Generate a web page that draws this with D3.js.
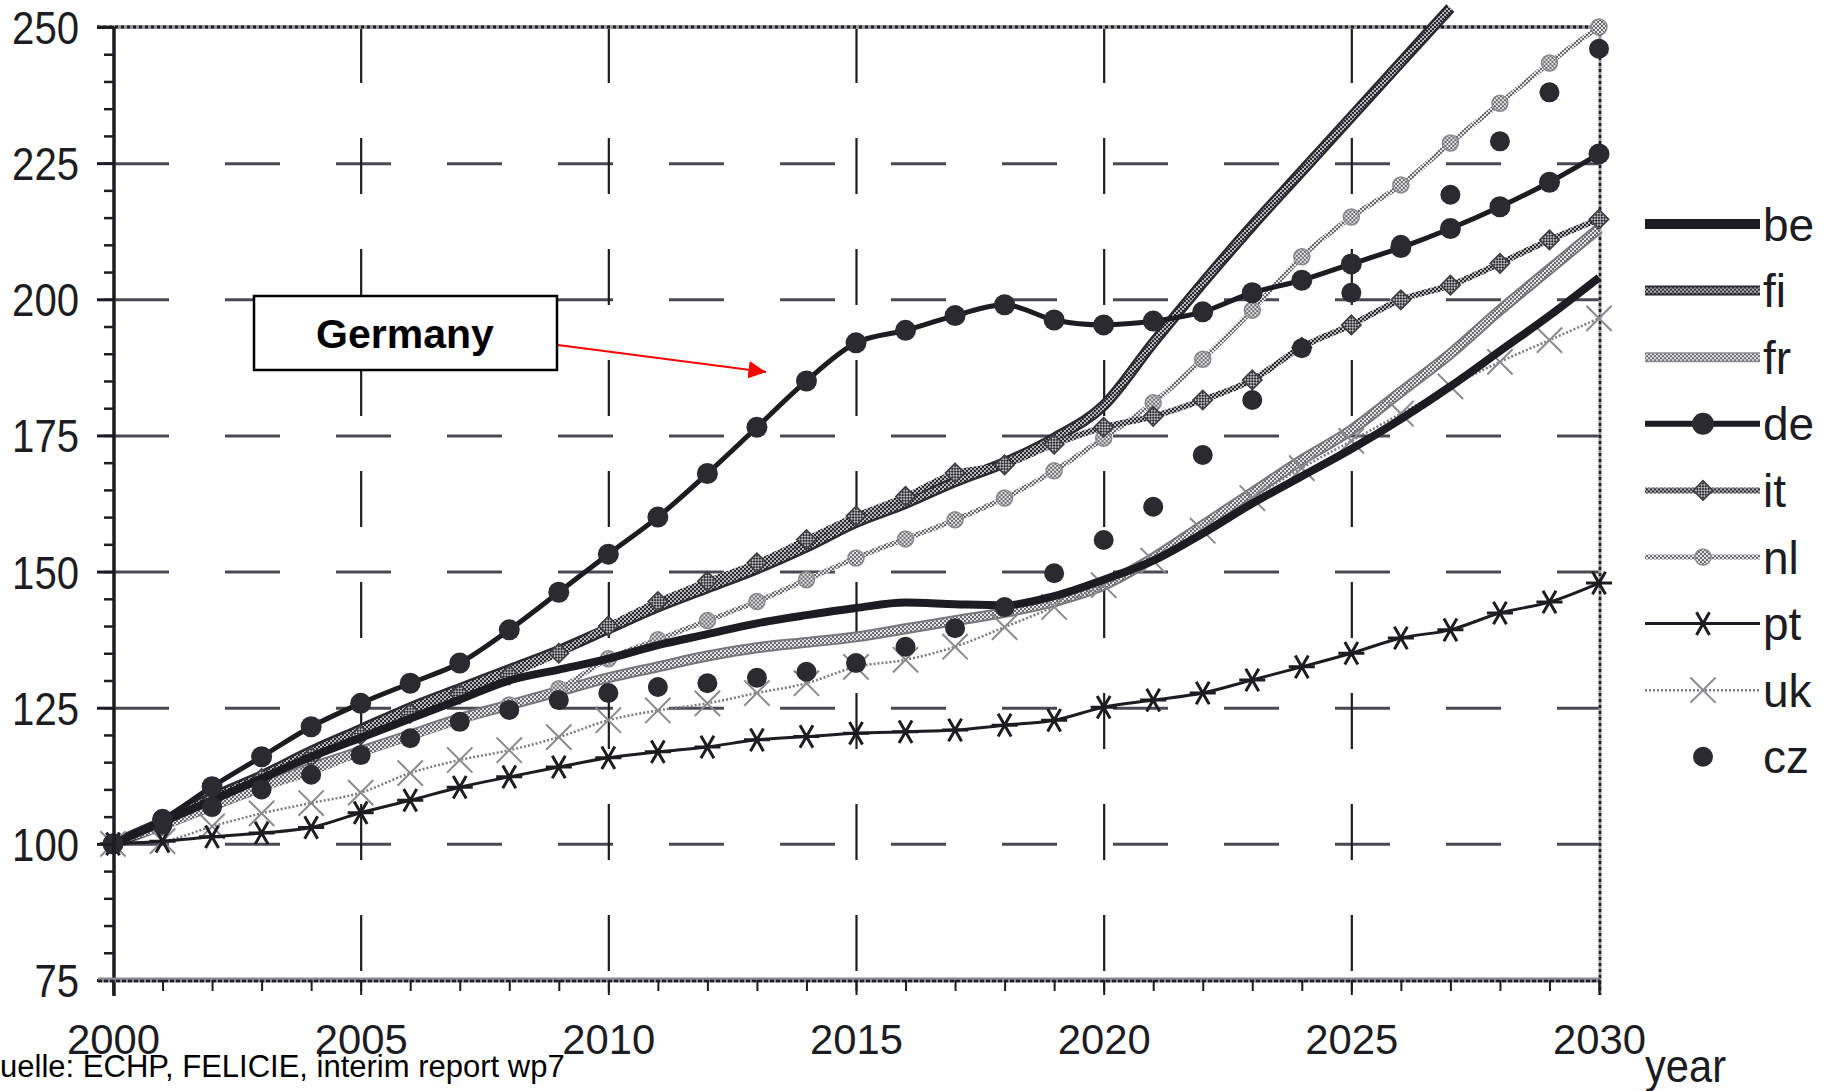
<!DOCTYPE html>
<html>
<head>
<meta charset="utf-8">
<script src="https://cdn.jsdelivr.net/npm/d3@7"></script>
<style>
    body { margin: 0; background: #fff; }
    text { font-family: "Liberation Sans", Arial, sans-serif; fill: #1c1c22; }
</style>
</head>
<body>
<div id="chart"></div>
<script>
var years = [2000, 2001, 2002, 2003, 2004, 2005, 2006, 2007, 2008, 2009, 2010,
    2011, 2012, 2013, 2014, 2015, 2016, 2017, 2018, 2019, 2020,
    2021, 2022, 2023, 2024, 2025, 2026, 2027, 2028, 2029, 2030];

var beValues = [100, 104, 108, 112, 116, 119.5, 123, 126.5, 130, 132, 134,
    136.5, 138.5, 140.5, 142, 143.3, 144.3, 144, 143.8, 145.5, 148.5,
    152, 157, 162.5, 167.5, 172.5, 178, 184, 190.5, 197, 204];
var fiValues = [100, 104, 108.5, 112.5, 117, 121, 125, 128.5, 132, 135.5, 139.5,
    143.5, 147, 150.5, 154.5, 159, 162.5, 166.5, 170, 174.5, 180.5,
    192, 203, 213.5, 223.5, 233.5, 243.5, 253.5, null, null, null];
var frValues = [100, 103.5, 107, 110.5, 114, 117, 120, 123, 125.5, 128, 130.5,
    132.5, 134.5, 136, 137, 138, 139.5, 141, 142.5, 144.5, 147.5,
    152.5, 158.5, 164.5, 170.5, 176, 183, 190, 198, 205.5, 213];
var deValues = [100, 104.5, 110.5, 116, 121.5, 125.8, 129.5, 133.2, 139.3, 146.2, 153.2,
    160, 168, 176.5, 185, 192, 194.3, 197, 199, 196.2, 195.3,
    196, 197.7, 201.2, 203.5, 206.5, 209.5, 213, 217, 221.5, 226.7];
var itValues = [100, 104, 108, 112, 116, 120, 124, 127.5, 131, 135, 140,
    144.5, 148.2, 151.6, 155.9, 160.2, 163.8, 168.1, 169.6, 173.4, 176.5,
    178.5, 181.5, 185.2, 191.2, 195.3, 199.9, 202.6, 206.6, 210.9, 214.7];
var nlValues = [100, 103, 106.5, 110, 113, 116.5, 119.5, 122.5, 125.5, 128.5, 134,
    137.5, 141, 144.5, 148.5, 152.5, 156, 159.5, 163.5, 168.5, 174.5,
    181, 189, 198, 207.8, 215.1, 221, 228.7, 236, 243.4, 250];
var ptValues = [100, 100.5, 101.3, 102, 103, 105.7, 108, 110.4, 112.3, 114.1, 115.8,
    116.9, 117.8, 119.1, 119.7, 120.3, 120.6, 120.9, 121.8, 122.7, 125.1,
    126.4, 127.7, 130.1, 132.5, 135, 137.8, 139.3, 142.4, 144.4, 147.9];
var ukValues = [100, 100.5, 103.2, 105.6, 107.5, 109.4, 113, 115.4, 117.2, 119.6, 122.7,
    124.5, 125.8, 127.7, 129.5, 132.5, 133.8, 136.2, 139.8, 143.5, 147.5,
    152, 157.5, 163.5, 169, 174, 179, 184, 188.5, 192.5, 196.5];
var czValues = [100, 103.5, 106.8, 110, 112.7, 116.3, 119.4, 122.4, 124.6, 126.4, 127.7,
    128.8, 129.5, 130.5, 131.6, 133.2, 136.2, 139.6, 143.5, 149.7, 155.8,
    161.9, 171.4, 181.5, 191, 201.2, 210, 219.2, 229, 238, 246];

var yTicks = [75, 100, 125, 150, 175, 200, 225, 250];
var xTicks = [2000, 2005, 2010, 2015, 2020, 2025, 2030];
var legendKeys = ["be", "fi", "fr", "de", "it", "nl", "pt", "uk", "cz"];

(function () {
    var width = 1827,
        height = 1091;
    var left = 114, right = 1600, top = 27, bottom = 980;
    var ink = "#1c1c22";

    var svg = d3.select("#chart")
        .append("svg")
        .attr("width", width)
        .attr("height", height);

    var x = d3.scaleLinear().domain([2000, 2030]).range([113, 1599]);
    var y = d3.scaleLinear().domain([75, 250]).range([bottom, top]);

    // checkered fills imitating the scanned grey patterns
    var defs = svg.append("defs");
    function checker(id, a, b) {
        var p = defs.append("pattern")
            .attr("id", id)
            .attr("patternUnits", "userSpaceOnUse")
            .attr("width", 4).attr("height", 4);
        p.append("rect").attr("width", 4).attr("height", 4).attr("fill", b);
        p.append("rect").attr("width", 2).attr("height", 2).attr("fill", a);
        p.append("rect").attr("x", 2).attr("y", 2).attr("width", 2).attr("height", 2).attr("fill", a);
    }
    checker("chkDark", "#2a2a30", "#b8b8bc");
    checker("chkLight", "#6a6a70", "#e4e4e6");

    defs.append("marker")
        .attr("id", "arrow")
        .attr("viewBox", "0 0 10 10")
        .attr("refX", 10).attr("refY", 5)
        .attr("markerWidth", 8).attr("markerHeight", 8)
        .attr("markerUnits", "strokeWidth")
        .attr("orient", "auto")
        .append("path")
        .attr("d", "M0,0L10,5L0,10z")
        .attr("fill", "#f00");

    // ---- grid ----
    var hGrid = svg.append("g")
        .attr("transform", "translate(" + left + ",0)")
        .call(d3.axisLeft(y).tickValues([100, 125, 150, 175, 200, 225])
            .tickSize(-(right - left)).tickFormat(""));
    hGrid.select(".domain").remove();
    hGrid.selectAll("line")
        .attr("stroke", "#4a4a52")
        .attr("stroke-width", 3)
        .attr("stroke-dasharray", "55,56");

    var vGrid = svg.append("g")
        .attr("transform", "translate(0," + top + ")")
        .call(d3.axisTop(x).tickValues([2005, 2010, 2015, 2020, 2025])
            .tickSize(-(bottom - top)).tickFormat(""));
    vGrid.select(".domain").remove();
    vGrid.selectAll("line")
        .attr("stroke", ink)
        .attr("stroke-width", 2.2)
        .attr("stroke-dasharray", "56,55");

    // ---- frame: top & right dotted ----
    svg.append("line")
        .attr("x1", 97).attr("x2", right).attr("y1", top).attr("y2", top)
        .attr("stroke", "#9a9aa0").attr("stroke-width", 4);
    svg.append("line")
        .attr("x1", 97).attr("x2", right).attr("y1", top).attr("y2", top)
        .attr("stroke", ink).attr("stroke-width", 3).attr("stroke-dasharray", "3,3");
    svg.append("line")
        .attr("x1", right).attr("x2", right).attr("y1", top).attr("y2", bottom + 15)
        .attr("stroke", "#9a9aa0").attr("stroke-width", 3);
    svg.append("line")
        .attr("x1", right).attr("x2", right).attr("y1", top).attr("y2", bottom + 15)
        .attr("stroke", ink).attr("stroke-width", 2.5).attr("stroke-dasharray", "3,3");

    // ---- series ----
    var plot = svg.append("g");
    function lineOf(values) {
        return d3.line()
            .defined(function (v) { return v != null; })
            .x(function (v, i) { return x(years[i]); })
            .y(function (v) { return y(v); })
            .curve(d3.curveMonotoneX)(values);
    }
    function path(values, stroke, w, dash) {
        var p = plot.append("path")
            .attr("d", lineOf(values))
            .attr("fill", "none")
            .attr("stroke", stroke)
            .attr("stroke-width", w)
            .attr("stroke-linejoin", "round");
        if (dash) p.attr("stroke-dasharray", dash);
        return p;
    }
    function points(values, cls) {
        return plot.selectAll("." + cls)
            .data(values.map(function (v, i) { return { year: years[i], v: v }; })
                .filter(function (d) { return d.v != null; }))
            .enter().append("g")
            .attr("class", cls)
            .attr("transform", function (d) { return "translate(" + x(d.year) + "," + y(d.v) + ")"; });
    }

    // fr: thick light checker
    path(frValues, "#77777d", 11);
    path(frValues, "url(#chkLight)", 7);
    // fi: thick dark checker
    path(fiValues, "#2a2a30", 11);
    path(fiValues, "url(#chkDark)", 6);
    // nl: thin light checker with round markers
    path(nlValues, "url(#chkLight)", 5);
    points(nlValues, "nl").append("circle")
        .attr("r", 8)
        .attr("fill", "url(#chkLight)")
        .attr("stroke", "#8a8a90").attr("stroke-width", 1.5);
    // it: dark checker with diamond markers
    path(itValues, "url(#chkDark)", 6);
    points(itValues, "it").append("path")
        .attr("d", d3.symbol(d3.symbolSquare, 190)())
        .attr("transform", "rotate(45)")
        .attr("fill", "url(#chkDark)")
        .attr("stroke", "#3a3a40").attr("stroke-width", 1.5);
    // uk: dotted with x markers
    path(ukValues, "#7a7a80", 2.5, "2,2");
    points(ukValues, "uk").append("path")
        .attr("d", d3.symbol(d3.symbolTimes, 420)())
        .attr("fill", "none")
        .attr("stroke", "#8a8a90").attr("stroke-width", 2);
    // be: thick solid
    path(beValues, ink, 8);
    // pt: thin solid with asterisks
    path(ptValues, ink, 3);
    points(ptValues, "pt").append("path")
        .attr("d", d3.symbol(d3.symbolAsterisk, 480)())
        .attr("transform", "rotate(90)")
        .attr("fill", "none")
        .attr("stroke", ink).attr("stroke-width", 3);
    // cz: dots only
    points(czValues, "cz").append("circle")
        .attr("r", 10)
        .attr("fill", "#2a2a30");
    // de: solid with big round markers
    path(deValues, ink, 5);
    points(deValues, "de").append("circle")
        .attr("r", 10.5)
        .attr("fill", "#2a2a30");

    // ---- axes ----
    var yMinor = svg.append("g")
        .attr("transform", "translate(" + left + ",0)")
        .call(d3.axisLeft(y).ticks(35).tickSize(10).tickSizeOuter(0).tickFormat(""));
    yMinor.select(".domain").attr("stroke", ink).attr("stroke-width", 3.5)
        .attr("d", "M0," + top + "V" + (bottom + 16));
    yMinor.selectAll(".tick line").attr("stroke", ink).attr("stroke-width", 2.5);

    var yMajor = svg.append("g")
        .attr("transform", "translate(" + left + ",0)")
        .call(d3.axisLeft(y).tickValues(yTicks).tickSize(17).tickPadding(18));
    yMajor.select(".domain").remove();
    yMajor.selectAll(".tick line").attr("stroke", ink).attr("stroke-width", 3);
    yMajor.selectAll("text")
        .attr("font-family", "'Liberation Sans', Arial, sans-serif")
        .attr("font-size", 47)
        .attr("dy", "0.35em")
        .attr("fill", ink)
        .attr("textLength", function (d) { return String(d).length * 22.3; })
        .attr("lengthAdjust", "spacingAndGlyphs");

    var xMinor = svg.append("g")
        .attr("transform", "translate(0," + bottom + ")")
        .call(d3.axisBottom(x).ticks(30).tickSize(11).tickSizeOuter(0).tickFormat(""));
    xMinor.select(".domain").attr("stroke", "#8a8a92").attr("stroke-width", 5)
        .attr("d", "M" + (left - 16) + ",0H" + right);
    xMinor.selectAll(".tick line").attr("stroke", ink).attr("stroke-width", 2);
    svg.append("line")
        .attr("x1", left - 16).attr("x2", right).attr("y1", bottom + 1).attr("y2", bottom + 1)
        .attr("stroke", ink).attr("stroke-width", 2.5).attr("stroke-dasharray", "4,2");

    var xMajor = svg.append("g")
        .attr("transform", "translate(0," + bottom + ")")
        .call(d3.axisBottom(x).tickValues(xTicks).tickSize(15).tickPadding(28)
            .tickFormat(d3.format("d")));
    xMajor.select(".domain").remove();
    xMajor.selectAll(".tick line").attr("stroke", ink).attr("stroke-width", 2);
    xMajor.selectAll("text")
        .attr("font-family", "'Liberation Sans', Arial, sans-serif")
        .attr("font-size", 43)
        .attr("fill", ink)
        .attr("textLength", 93)
        .attr("lengthAdjust", "spacingAndGlyphs");

    svg.append("text")
        .attr("x", 1645).attr("y", 1082)
        .attr("font-size", 46)
        .attr("textLength", 81).attr("lengthAdjust", "spacingAndGlyphs")
        .text("year");

    svg.append("text")
        .attr("x", -24).attr("y", 1077)
        .attr("font-size", 31)
        .style("fill", "#000")
        .text("Quelle: ECHP, FELICIE, interim report wp7");

    // ---- legend ----
    var legend = svg.selectAll(".legend")
        .data(legendKeys)
        .enter().append("g")
        .attr("class", "legend")
        .attr("transform", function (d, i) { return "translate(0," + (224 + i * 66.6) + ")"; });

    legend.each(function (d) {
        var g = d3.select(this);
        function seg(stroke, w, dash) {
            var l = g.append("line")
                .attr("x1", 1645).attr("x2", 1760)
                .attr("stroke", stroke).attr("stroke-width", w);
            if (dash) l.attr("stroke-dasharray", dash);
        }
        if (d == "be") seg(ink, 10);
        if (d == "fi") { seg("#2a2a30", 10); seg("url(#chkDark)", 6); }
        if (d == "fr") { seg("#8a8a90", 10); seg("url(#chkLight)", 7); }
        if (d == "de") {
            seg(ink, 6);
            g.append("circle").attr("cx", 1703).attr("r", 11).attr("fill", "#2a2a30");
        }
        if (d == "it") {
            seg("url(#chkDark)", 6);
            g.append("path").attr("d", d3.symbol(d3.symbolSquare, 190)())
                .attr("transform", "translate(1703,0) rotate(45)")
                .attr("fill", "url(#chkDark)").attr("stroke", "#3a3a40").attr("stroke-width", 1.5);
        }
        if (d == "nl") {
            seg("url(#chkLight)", 5);
            g.append("circle").attr("cx", 1703).attr("r", 8)
                .attr("fill", "url(#chkLight)").attr("stroke", "#8a8a90").attr("stroke-width", 1.5);
        }
        if (d == "pt") {
            seg(ink, 3);
            g.append("path").attr("d", d3.symbol(d3.symbolAsterisk, 480)())
                .attr("transform", "translate(1703,0) rotate(90)")
                .attr("fill", "none").attr("stroke", ink).attr("stroke-width", 3);
        }
        if (d == "uk") {
            seg("#7a7a80", 2.5, "2,2");
            g.append("path").attr("d", d3.symbol(d3.symbolTimes, 420)())
                .attr("transform", "translate(1703,0)")
                .attr("fill", "none").attr("stroke", "#8a8a90").attr("stroke-width", 2);
        }
        if (d == "cz") {
            g.append("circle").attr("cx", 1703).attr("r", 10).attr("fill", "#2a2a30");
        }
    });

    legend.append("text")
        .attr("x", 1763)
        .attr("dy", "0.36em")
        .attr("font-size", 46)
        .text(function (d) { return d; });

    // ---- Germany callout ----
    svg.append("line")
        .attr("x1", 527).attr("y1", 341)
        .attr("x2", 766).attr("y2", 372)
        .attr("stroke", "#f00").attr("stroke-width", 2.2)
        .attr("marker-end", "url(#arrow)");
    svg.append("rect")
        .attr("x", 254).attr("y", 296)
        .attr("width", 303).attr("height", 74)
        .attr("fill", "#fff")
        .attr("stroke", "#000").attr("stroke-width", 2.5);
    svg.append("text")
        .attr("x", 405).attr("y", 348)
        .attr("text-anchor", "middle")
        .attr("font-size", 41)
        .attr("font-weight", "bold")
        .style("fill", "#000")
        .text("Germany");
})();
</script>
</body>
</html>
